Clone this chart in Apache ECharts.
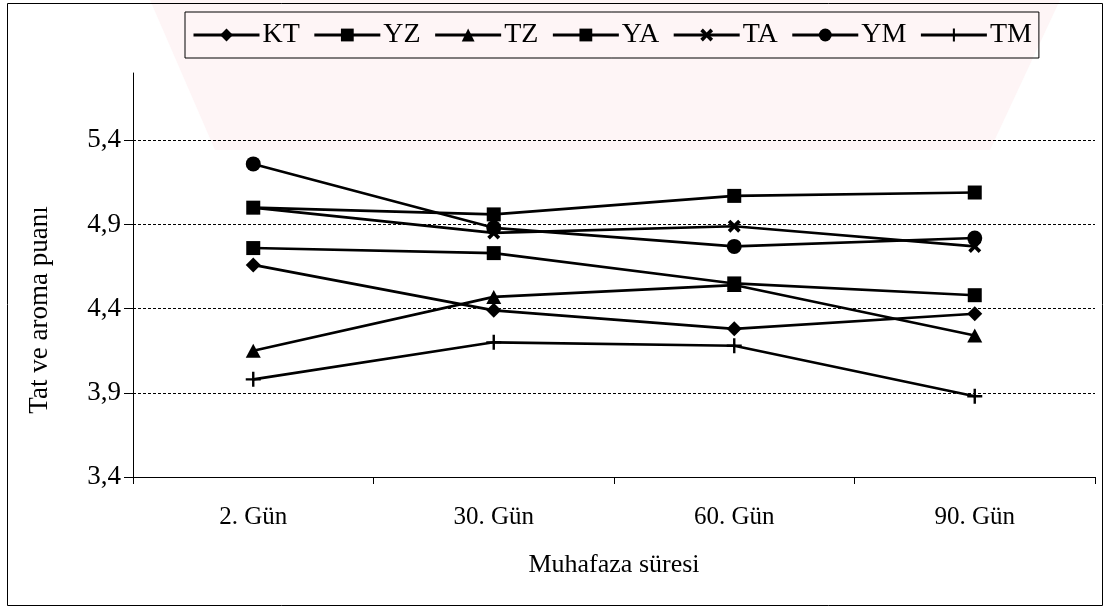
<!DOCTYPE html>
<html><head><meta charset="utf-8">
<script src="https://cdn.jsdelivr.net/npm/echarts@6/dist/echarts.min.js"></script>
<style>html,body{margin:0;padding:0;background:#fff}#c{width:1107px;height:609px}</style>
</head><body><div id="c"></div>
<script>
const categories = ['2. Gün', '30. Gün', '60. Gün', '90. Gün'];
const seriesNames = ['KT', 'YZ', 'TZ', 'YA', 'TA', 'YM', 'TM'];
const KT = [4.66, 4.39, 4.28, 4.37];
const YZ = [4.76, 4.73, 4.55, 4.48];
const TZ = [4.15, 4.47, 4.54, 4.24];
const YA = [5.00, 4.96, 5.07, 5.09];
const TA = [5.00, 4.85, 4.89, 4.77];
const YM = [5.26, 4.88, 4.77, 4.82];
const TM = [3.98, 4.20, 4.18, 3.88];
const yTicks = [3.4, 3.9, 4.4, 4.9, 5.4];
const yMin = 3.4, yMax = 5.8;

const values = {KT, YZ, TZ, YA, TA, YM, TM};
const FONT = "'Liberation Serif','Times New Roman',serif";
const xPath = 'path://M0,2 L2,0 L5,3 L8,0 L10,2 L7,5 L10,8 L8,10 L5,7 L2,10 L0,8 L3,5 Z';
const plusPath = 'path://M4.2,0 L5.8,0 L5.8,4.2 L10,4.2 L10,5.8 L5.8,5.8 L5.8,10 L4.2,10 L4.2,5.8 L0,5.8 L0,4.2 L4.2,4.2 Z';
const symbols = {KT: 'diamond', YZ: 'rect', TZ: 'triangle', YA: 'rect', TA: xPath, YM: 'circle', TM: plusPath};
const sizes = {KT: [15, 15], YZ: [14, 14], TZ: [15, 14], YA: [14, 14], TA: [13, 13], YM: [15, 15], TM: [15, 15]};

const chart = echarts.init(document.getElementById('c'), null, {renderer: 'canvas'});
const series = seriesNames.map(n => ({
  name: n, type: 'line', data: values[n],
  symbol: symbols[n], symbolSize: sizes[n], showAllSymbol: true,
  lineStyle: {color: '#000', width: 2.6},
  itemStyle: {color: '#000'},
  animation: false
}));
series[0].markLine = {
  silent: true, symbol: 'none', label: {show: false},
  lineStyle: {color: '#000', type: [3, 2], width: 1},
  data: yTicks.slice(1).map(v => ({yAxis: v}))
};
chart.setOption({
  animation: false,
  backgroundColor: '#fff',
  textStyle: {fontFamily: FONT, color: '#000'},
  graphic: [
    {type: 'polygon', z: -10, silent: true, shape: {points: [[150, 0], [1060, 0], [990, 150], [215, 150]]}, style: {fill: '#fef5f6'}},
    {type: 'rect', shape: {x: 7.5, y: 3.5, width: 1095, height: 602}, style: {fill: 'none', stroke: '#000', lineWidth: 1}, silent: true}
  ],
  legend: {
    left: 185, top: 12, padding: [9, 7, 9, 7],
    borderColor: '#000', borderWidth: 1,
    itemWidth: 66, itemHeight: 16, itemGap: 13,
    textStyle: {fontFamily: FONT, fontSize: 28, color: '#000', padding: [0, 0, 0, -2]},
    lineStyle: {width: 3},
    data: seriesNames
  },
  grid: {left: 133, right: 12, top: 73, bottom: 132, containLabel: false},
  xAxis: {
    type: 'category', data: categories, boundaryGap: true,
    axisLine: {lineStyle: {color: '#000', width: 1}},
    axisTick: {show: true, length: 7, lineStyle: {color: '#000'}},
    axisLabel: {fontFamily: FONT, fontSize: 25, color: '#000', margin: 28},
    name: 'Muhafaza süresi', nameLocation: 'middle', nameGap: 75,
    nameTextStyle: {fontFamily: FONT, fontSize: 26, color: '#000'}
  },
  yAxis: {
    type: 'value', min: yMin, max: yMax,
    axisLine: {show: true, lineStyle: {color: '#000', width: 1}},
    axisTick: {show: true, length: 9, customValues: yTicks, lineStyle: {color: '#000'}},
    axisLabel: {fontFamily: FONT, fontSize: 27, color: '#000', margin: 12, customValues: yTicks,
      formatter: v => v.toFixed(1).replace('.', ',')},
    splitLine: {show: false},
    name: 'Tat ve aroma puanı', nameLocation: 'middle', nameGap: 80, nameRotate: 90,
    nameTextStyle: {fontFamily: FONT, fontSize: 27, color: '#000', padding: [0, 70, 0, 0]}
  },
  series
});
</script></body></html>
